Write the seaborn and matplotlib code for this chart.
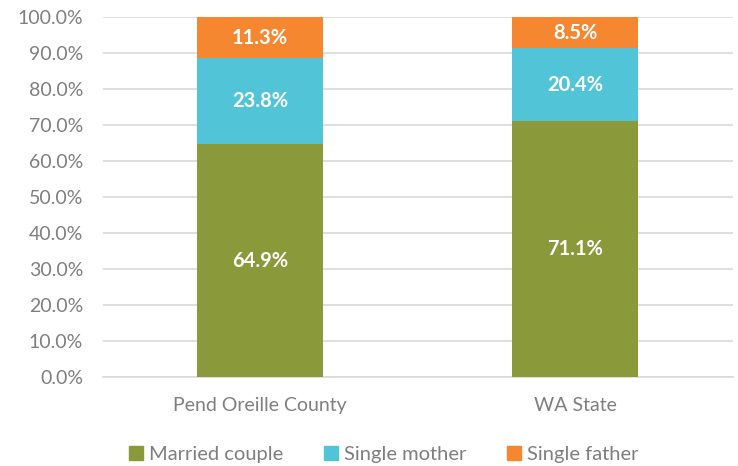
import matplotlib
matplotlib.use("Agg")
import matplotlib.pyplot as plt
import seaborn as sns
import pandas as pd
import numpy as np
from matplotlib.patches import Patch

categories = ["Pend Oreille County", "WA State"]
series = ["Married couple", "Single mother", "Single father"]
married = [64.9, 71.1]
single_mother = [23.8, 20.4]
single_father = [11.3, 8.5]
colors = ["#8a9a3a", "#52c4d8", "#f58730"]

sns.set_theme(style="white")
plt.rcParams["font.family"] = ["Lato", "DejaVu Sans"]

fig = plt.figure(figsize=(7.38, 4.66), dpi=100)
ax = fig.add_axes([0.139, 0.19, 0.854, 0.773])

values = np.array([married, single_mother, single_father])
cum = np.cumsum(values, axis=0)

# stacked look: draw cumulative totals from top down, lower segments cover taller ones
for i in range(len(series) - 1, -1, -1):
    df = pd.DataFrame({"cat": categories, "val": cum[i]})
    sns.barplot(data=df, x="cat", y="val", color=colors[i], width=0.4,
                saturation=1, linewidth=0, ax=ax, zorder=3)

for i in range(len(series)):
    for j in range(len(categories)):
        mid = cum[i][j] - values[i][j] / 2
        ax.text(j, mid, f"{values[i][j]:.1f}%", ha="center", va="center",
                color="white", fontsize=14.5, fontweight="bold", zorder=5)

ax.set_xlim(-0.5, 1.5)
ax.set_ylim(0, 100)
ax.set_yticks(np.arange(0, 101, 10))
ax.set_yticklabels([f"{v:.1f}%" for v in np.arange(0, 101, 10)])
ax.yaxis.grid(True, color="#d9d9d9", linewidth=1.2, zorder=0)
ax.set_axisbelow(True)
for s in ["top", "right", "left"]:
    ax.spines[s].set_visible(False)
ax.spines["bottom"].set_color("#d9d9d9")
ax.spines["bottom"].set_linewidth(1.2)
ax.set_xlabel("")
ax.set_ylabel("")
ax.tick_params(axis="both", colors="#7f7f7f", labelsize=14, length=0)
ax.tick_params(axis="x", pad=14)
ax.tick_params(axis="y", pad=14)

handles = [Patch(color=c, label=s) for s, c in zip(series, colors)]
fig.legend(handles=handles, loc="lower center", ncol=3, frameon=False,
           bbox_to_anchor=(0.52, -0.032), fontsize=14.5, handlelength=0.7,
           handleheight=0.7, handletextpad=0.3, columnspacing=2.0,
           labelcolor="#7f7f7f")

fig.savefig("out.png", dpi=100)
